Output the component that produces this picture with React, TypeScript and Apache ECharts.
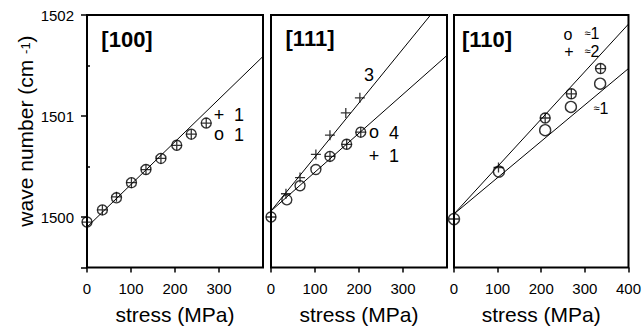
import React, { useEffect, useRef } from "react";
import * as echarts from "echarts";

// ---- data ----
const xTicks = [0, 100, 200, 300];
const xTicksLast = [0, 100, 200, 300, 400];
const yLabels = [1500, 1501, 1502];
const yTicks = [1499.5, 1500, 1501, 1502];
const yMinorTicks = [1500.5, 1501.5];

// [100]
const stress100 = [0, 35, 67, 101, 134, 168, 204, 237, 271];
const circ100 = [1499.95, 1500.07, 1500.19, 1500.34, 1500.47, 1500.58, 1500.71, 1500.82, 1500.93];
const plus100 = [1499.95, 1500.07, 1500.2, 1500.34, 1500.47, 1500.58, 1500.71, 1500.82, 1500.93];
const fit100X = [0, 400];
const fit100Y = [1499.9, 1501.59];

// [111]
const stress111Circ = [0, 36, 66, 102, 134, 172, 204];
const circ111 = [1500.0, 1500.17, 1500.31, 1500.47, 1500.6, 1500.72, 1500.84];
const stress111PlusLow = [134, 172, 204];
const plus111Low = [1500.6, 1500.72, 1500.84];
const stress111PlusUp = [0, 34, 66, 102, 134, 170, 202];
const plus111Up = [1500.0, 1500.23, 1500.39, 1500.62, 1500.81, 1501.03, 1501.18];
const fit111X = [0, 400];
const fit111UpY = [1500.06, 1502.2];
const fit111LowY = [1500.06, 1501.6];

// [110]
const stress110Circ = [0, 103, 209, 268, 335];
const circ110 = [1499.98, 1500.45, 1500.86, 1501.09, 1501.32];
const stress110CircUp = [209, 269, 336];
const circ110Up = [1500.98, 1501.22, 1501.47];
const stress110Plus = [0, 102, 209, 269, 336];
const plus110 = [1499.98, 1500.49, 1500.98, 1501.22, 1501.47];
const fit110X = [0, 400];
const fit110UpY = [1500.03, 1501.91];
const fit110LowY = [1500.03, 1501.47];

const FONT = '"Liberation Sans", Arial, Helvetica, sans-serif';
const PLUS = "path://M4.35,0H5.65V4.35H10V5.65H5.65V10H4.35V5.65H0V4.35H4.35Z";

const zip = (xs: number[], ys: number[]) => xs.map((x, i) => [x, ys[i]]);

export default function App() {
  const ref = useRef<HTMLDivElement>(null);
  useEffect(() => {
    if (!ref.current) return;
    const chart = echarts.init(ref.current, null, { renderer: "svg" });

    const grids = [87, 271, 454].map((left) => ({
      left,
      top: 15,
      width: 176,
      height: 254,
      show: true,
      borderColor: "#000",
      borderWidth: 2,
      backgroundColor: "transparent",
    }));

    const xAxes = [0, 1, 2].map((i) => ({
      type: "value",
      gridIndex: i,
      min: 0,
      max: 400,
      interval: 100,
      axisLine: { show: false },
      splitLine: { show: false },
      axisTick: {
        show: true,
        length: 5,
        lineStyle: { color: "#000", width: 1.5 },
        customValues: i === 2 ? xTicksLast : xTicks,
      },
      axisLabel: {
        color: "#000",
        fontSize: 15,
        fontFamily: FONT,
        margin: 13,
        customValues: i === 2 ? xTicksLast : xTicks,
        formatter: (v: number) => String(v),
      },
      name: "stress (MPa)",
      nameLocation: "middle",
      nameGap: 47,
      nameTextStyle: { color: "#000", fontSize: 21, fontFamily: FONT, verticalAlign: "middle" },
    }));

    const yBase = {
      type: "value",
      min: 1499.5,
      max: 1502,
      interval: 0.5,
      axisLine: { show: false },
      splitLine: { show: false },
    };
    const yAxes = [
      {
        ...yBase,
        gridIndex: 0,
        position: "left",
        axisTick: { show: true, length: 6, lineStyle: { color: "#000", width: 1.5 }, customValues: yTicks },
        axisLabel: {
          color: "#000",
          fontSize: 15,
          fontFamily: FONT,
          margin: 13,
          customValues: yLabels,
          formatter: (v: number) => String(v),
        },
      },
      {
        ...yBase,
        gridIndex: 0,
        position: "left",
        axisTick: { show: true, inside: true, length: 3, lineStyle: { color: "#000", width: 1.5 }, customValues: yMinorTicks },
        axisLabel: { show: false },
      },
      { ...yBase, gridIndex: 1, axisTick: { show: false }, axisLabel: { show: false } },
      { ...yBase, gridIndex: 2, axisTick: { show: false }, axisLabel: { show: false } },
    ];

    const fit = (xi: number, yi: number, xs: number[], ys: number[]) => ({
      type: "line",
      xAxisIndex: xi,
      yAxisIndex: yi,
      data: zip(xs, ys),
      showSymbol: false,
      symbol: "none",
      lineStyle: { color: "#000", width: 1 },
      silent: true,
      z: 2,
    });
    const circ = (xi: number, yi: number, xs: number[], ys: number[], size = 10) => ({
      type: "scatter",
      xAxisIndex: xi,
      yAxisIndex: yi,
      data: zip(xs, ys),
      symbol: "circle",
      symbolSize: size,
      itemStyle: { color: "rgba(0,0,0,0)", borderColor: "#000", borderWidth: 1.4 },
      silent: true,
      z: 3,
    });
    const plus = (xi: number, yi: number, xs: number[], ys: number[], size = 10) => ({
      type: "scatter",
      xAxisIndex: xi,
      yAxisIndex: yi,
      data: zip(xs, ys),
      symbol: PLUS,
      symbolSize: size,
      itemStyle: { color: "#000" },
      silent: true,
      z: 4,
    });

    const series = [
      fit(0, 0, fit100X, fit100Y),
      circ(0, 0, stress100, circ100),
      plus(0, 0, stress100, plus100),
      fit(1, 2, fit111X, fit111UpY),
      fit(1, 2, fit111X, fit111LowY),
      circ(1, 2, stress111Circ, circ111),
      plus(1, 2, stress111PlusLow, plus111Low),
      plus(1, 2, stress111PlusUp, plus111Up),
      fit(2, 3, fit110X, fit110UpY),
      fit(2, 3, fit110X, fit110LowY),
      circ(2, 3, stress110Circ, circ110, 11),
      circ(2, 3, stress110CircUp, circ110Up, 10),
      plus(2, 3, stress110Plus, plus110, 10),
    ];

    const txt = (text: string, x: number, y: number, size: number, bold = false) => ({
      type: "text",
      x,
      y,
      silent: true,
      style: {
        text,
        fill: "#000",
        font: `${bold ? "bold " : ""}${size}px ${FONT}`,
        lineHeight: Math.min(size, 14),
        align: "center",
        verticalAlign: "middle",
        textAlign: "center",
        textVerticalAlign: "middle",
      },
    });
    const approx = (text: string, x: number, y: number) => ({
      type: "text",
      x,
      y,
      silent: true,
      style: {
        text: `{s|≈}{n|${text}}`,
        fill: "#000",
        align: "center",
        verticalAlign: "middle",
        textAlign: "center",
        textVerticalAlign: "middle",
        rich: {
          s: { fontSize: 11, fontFamily: FONT, fill: "#000", lineHeight: 12 },
          n: { fontSize: 16, fontFamily: FONT, fill: "#000", lineHeight: 12 },
        },
      },
    });

    const graphic = [
      {
        type: "text",
        x: 25,
        y: 131,
        rotation: Math.PI / 2,
        silent: true,
        style: {
          text: "{a|wave number (cm }{s|-1}{a|)}",
          fill: "#000",
          align: "center",
          verticalAlign: "middle",
          textAlign: "center",
          textVerticalAlign: "middle",
          rich: {
            a: { fontSize: 21, fontFamily: FONT, fill: "#000", height: 24 },
            s: { fontSize: 13, fontFamily: FONT, fill: "#000", verticalAlign: "top", height: 24 },
          },
        },
      },
      txt("[100]", 127, 39, 22, true),
      txt("[111]", 310, 38, 22, true),
      txt("[110]", 487, 39, 22, true),
      txt("+", 219, 115, 18),
      txt("1", 239, 115, 18),
      txt("o", 219, 134, 18),
      txt("1", 239, 135, 18),
      txt("3", 369, 75, 18),
      txt("o", 374, 132, 18),
      txt("4", 394, 133, 18),
      txt("+", 374, 156, 18),
      txt("1", 394, 156, 18),
      txt("o", 568, 34, 16),
      approx("1", 592, 33),
      txt("+", 569, 51, 16),
      approx("2", 592, 51),
      approx("1", 601, 108),
    ];

    chart.setOption({
      animation: false,
      backgroundColor: "#fff",
      textStyle: { fontFamily: FONT },
      grid: grids,
      xAxis: xAxes,
      yAxis: yAxes,
      series,
      graphic,
    } as any);

    return () => chart.dispose();
  }, []);

  return (
    <div
      ref={ref}
      style={{ position: "fixed", left: 0, top: 0, width: 644, height: 330 }}
    />
  );
}
